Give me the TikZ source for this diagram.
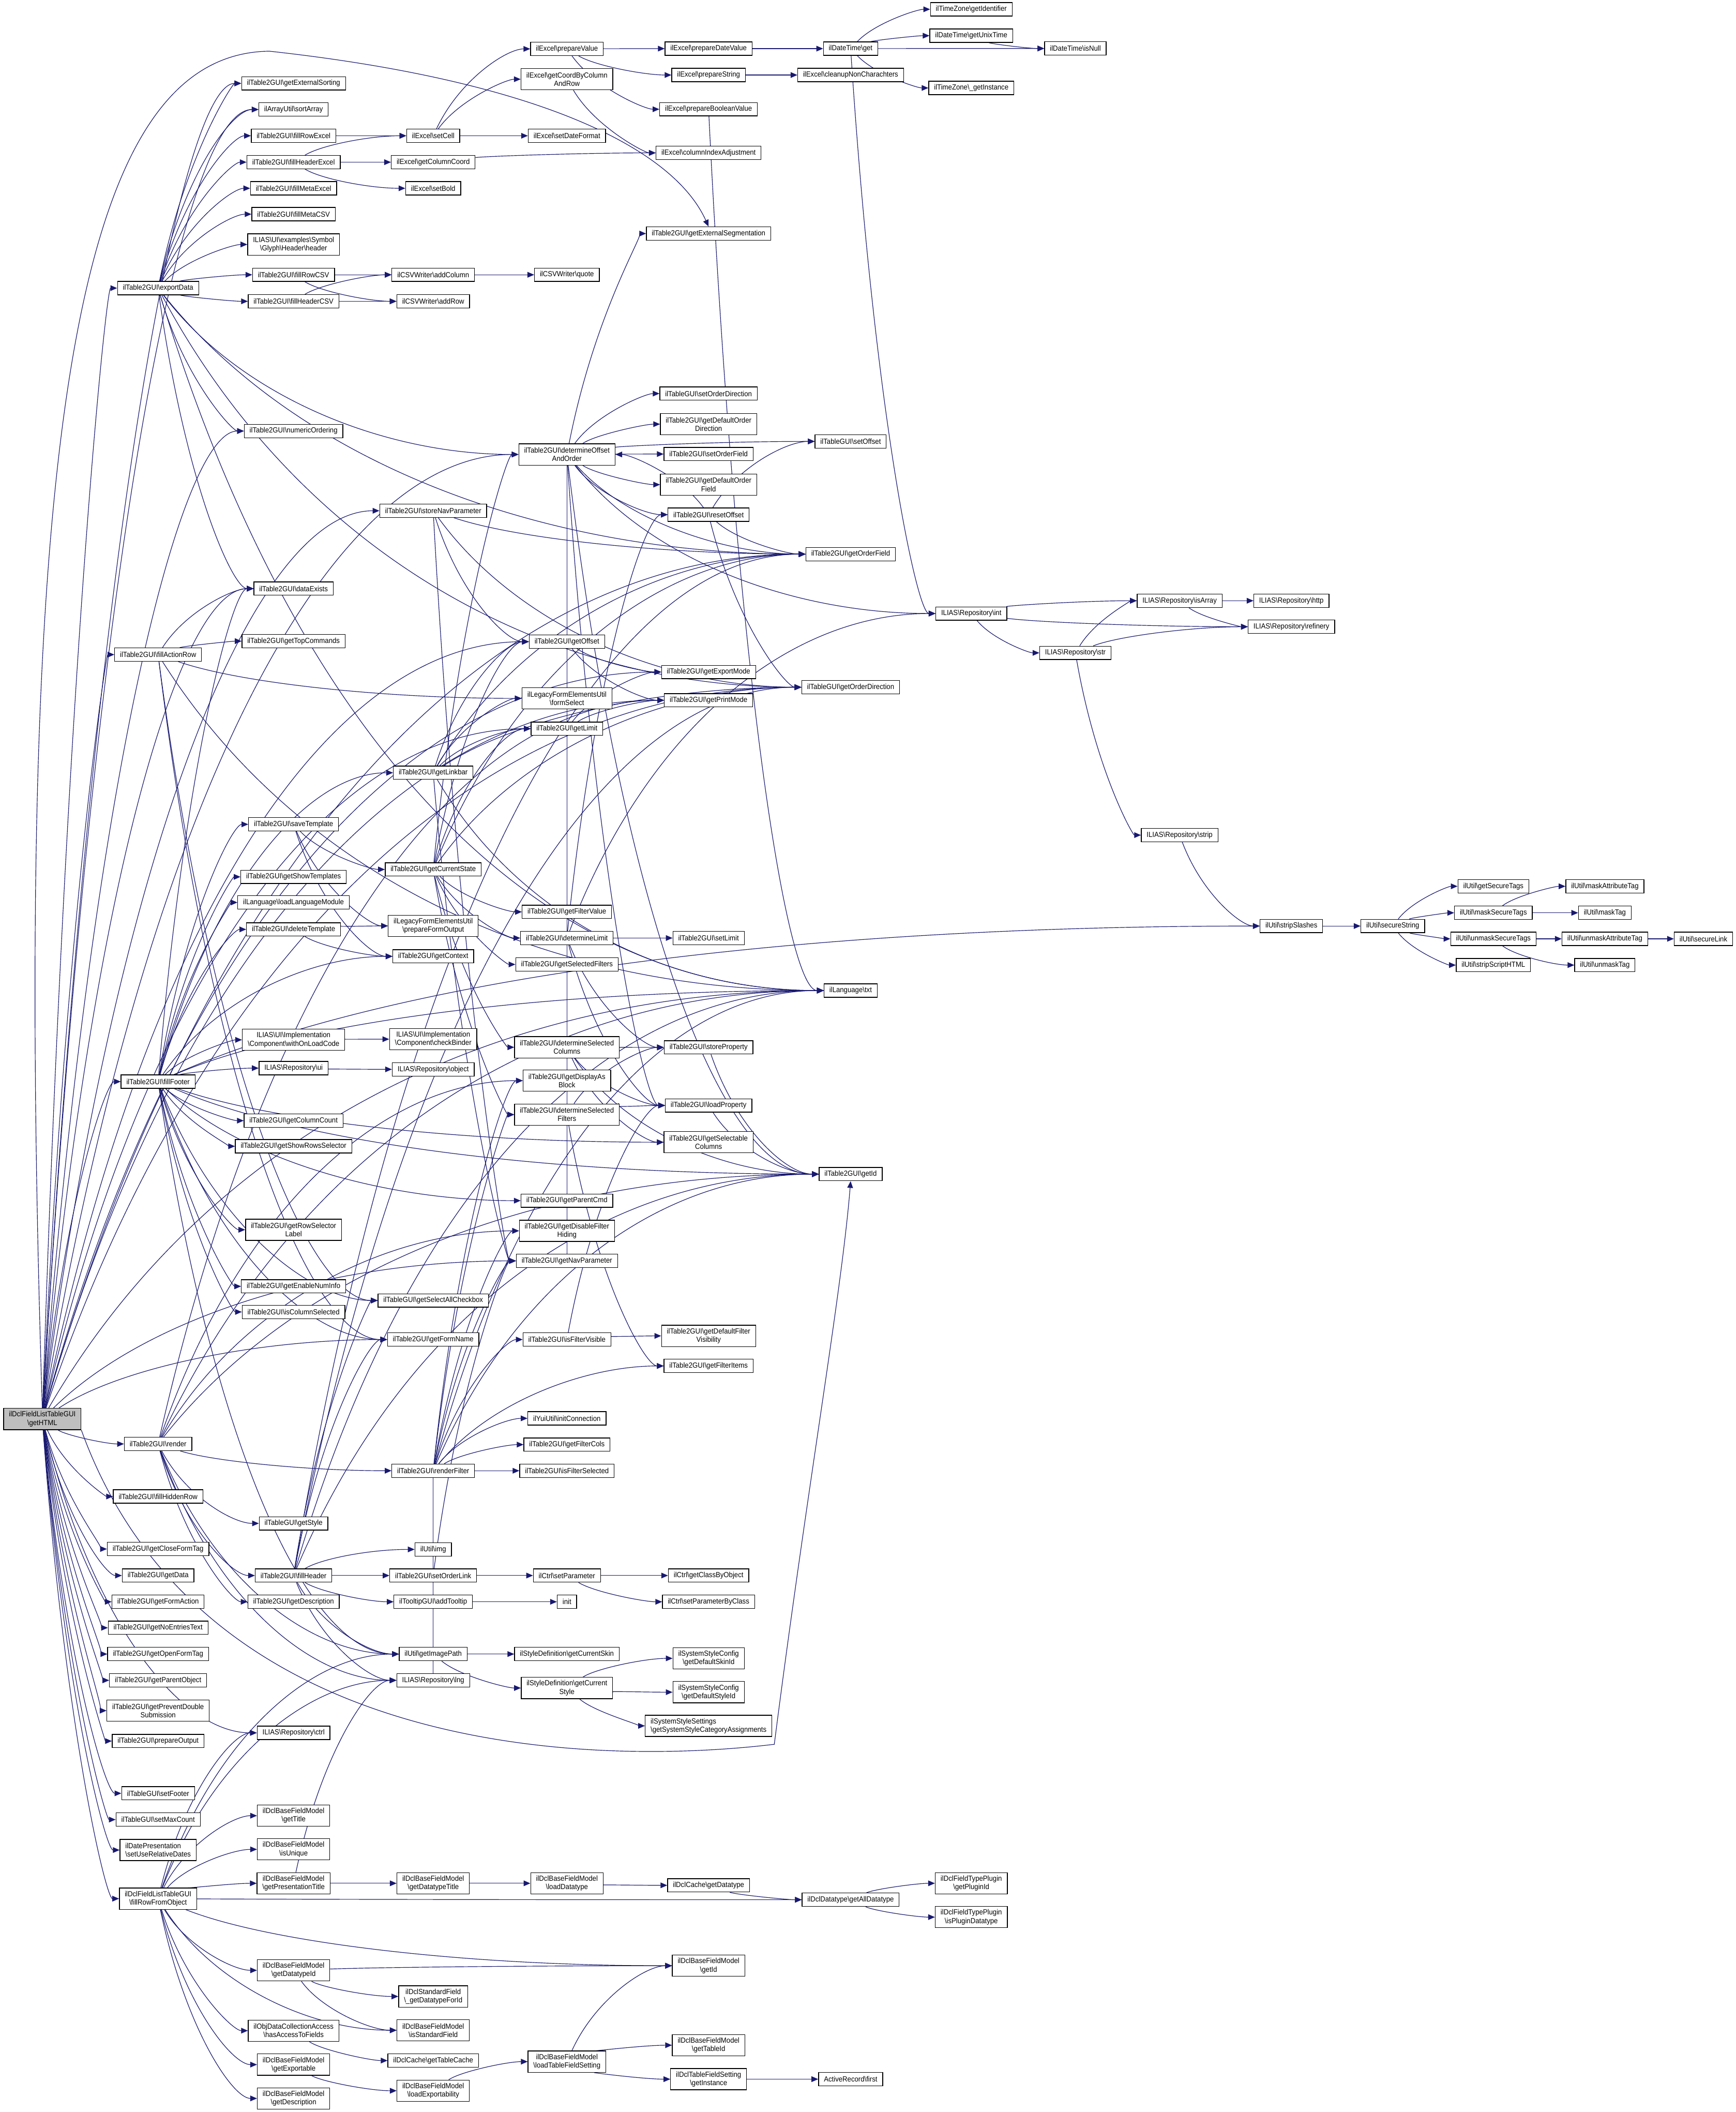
\documentclass[tikz,border=0pt]{standalone}
\usepackage{fontspec}
\usetikzlibrary{arrows.meta,calc}
\newfontfamily\dgfont{Liberation Sans}[FakeStretch=0.92]
\definecolor{edgeblue}{RGB}{25,25,112}
\definecolor{rootgray}{RGB}{191,191,191}
\newcommand{\bsl}{\textbackslash}
% curved call from #1 to #2, leaving towards the target row
\newcommand{\callc}[2]{\draw[call] let \p1=(#1.center), \p2=(#2.center) in
  (#1) .. controls ({\x1+0.2*(\x2-\x1)},{\y1+0.65*(\y2-\y1)}) and ({\x2-0.45*(\x2-\x1)},{\y2}) .. (#2);}
\pgfdeclarelayer{edges}
\pgfsetlayers{edges,main}

\begin{document}
\begin{tikzpicture}[x=1pt,y=-1pt,
    box/.style={draw=black,fill=white,line width=0.5pt,inner xsep=4pt,inner ysep=0pt,
      minimum height=9.9pt,align=center,font=\dgfont\fontsize{5.5}{6.2}\selectfont},
    twoline/.style={minimum height=15.8pt},
    rootbox/.style={box,twoline,fill=rootgray},
    call/.style={draw=edgeblue,line width=0.45pt,-{Triangle[length=5pt,width=4.2pt]}}]
\useasboundingbox (0,0) rectangle (1289,1568);

% root
\node[rootbox] (getHTML) at (31.4,1053.5) {ilDclFieldListTableGUI\\\bsl getHTML};

% column 1: x=117.4
\node[box] (exportData) at (117.4,213.9) {ilTable2GUI\bsl exportData};
\node[box] (fillActionRow) at (117.4,486) {ilTable2GUI\bsl fillActionRow};
\node[box] (fillFooter) at (117.4,803) {ilTable2GUI\bsl fillFooter};
\node[box] (render) at (117.4,1072) {ilTable2GUI\bsl render};
\node[box] (fillHiddenRow) at (117.4,1111) {ilTable2GUI\bsl fillHiddenRow};
\node[box] (getCloseFormTag) at (117.4,1150) {ilTable2GUI\bsl getCloseFormTag};
\node[box] (getData) at (117.4,1169.7) {ilTable2GUI\bsl getData};
\node[box] (getFormAction) at (117.4,1189.2) {ilTable2GUI\bsl getFormAction};
\node[box] (getNoEntriesText) at (117.4,1208.5) {ilTable2GUI\bsl getNoEntriesText};
\node[box] (getOpenFormTag) at (117.4,1228) {ilTable2GUI\bsl getOpenFormTag};
\node[box] (getParentObject) at (117.4,1247.5) {ilTable2GUI\bsl getParentObject};
\node[box,twoline] (getPreventDblSub) at (117.4,1270) {ilTable2GUI\bsl getPreventDouble\\Submission};
\node[box] (prepareOutput) at (117.4,1292.6) {ilTable2GUI\bsl prepareOutput};
\node[box] (setFooter) at (117.4,1331.4) {ilTableGUI\bsl setFooter};
\node[box] (setMaxCount) at (117.4,1350.9) {ilTableGUI\bsl setMaxCount};
\node[box,twoline,align=left] (setUseRelDates) at (117.4,1373.5) {ilDatePresentation\\\bsl setUseRelativeDates};
\node[box,twoline] (fillRowFromObject) at (117.4,1409.6) {ilDclFieldListTableGUI\\\bsl fillRowFromObject};

% column 2: x=218
\node[box] (getExtSorting) at (218,61.9) {ilTable2GUI\bsl getExternalSorting};
\node[box] (sortArray) at (218,81.3) {ilArrayUtil\bsl sortArray};
\node[box] (fillRowExcel) at (218,100.8) {ilTable2GUI\bsl fillRowExcel};
\node[box] (fillHeaderExcel) at (218,120.4) {ilTable2GUI\bsl fillHeaderExcel};
\node[box] (fillMetaExcel) at (218,139.8) {ilTable2GUI\bsl fillMetaExcel};
\node[box] (fillMetaCSV) at (218,159) {ilTable2GUI\bsl fillMetaCSV};
\node[box,twoline] (glyphHeader) at (218,181.5) {ILIAS\bsl UI\bsl examples\bsl Symbol\\\bsl Glyph\bsl Header\bsl header};
\node[box] (fillRowCSV) at (218,204) {ilTable2GUI\bsl fillRowCSV};
\node[box] (fillHeaderCSV) at (218,223.7) {ilTable2GUI\bsl fillHeaderCSV};
\node[box] (numericOrdering) at (218,320) {ilTable2GUI\bsl numericOrdering};
\node[box] (dataExists) at (218,437) {ilTable2GUI\bsl dataExists};
\node[box] (getTopCommands) at (218,476) {ilTable2GUI\bsl getTopCommands};
\node[box] (saveTemplate) at (218,612) {ilTable2GUI\bsl saveTemplate};
\node[box] (getShowTemplates) at (218,651) {ilTable2GUI\bsl getShowTemplates};
\node[box] (loadLangModule) at (218,670) {ilLanguage\bsl loadLanguageModule};
\node[box] (deleteTemplate) at (218,690) {ilTable2GUI\bsl deleteTemplate};
\node[box,twoline] (withOnLoadCode) at (218,772) {ILIAS\bsl UI\bsl Implementation\\\bsl Component\bsl withOnLoadCode};
\node[box] (repoUi) at (218,793) {ILIAS\bsl Repository\bsl ui};
\node[box] (getColumnCount) at (218,832) {ilTable2GUI\bsl getColumnCount};
\node[box] (getShowRowsSel) at (218,851) {ilTable2GUI\bsl getShowRowsSelector};
\node[box,twoline] (getRowSelLabel) at (218,913) {ilTable2GUI\bsl getRowSelector\\Label};
\node[box] (getEnableNumInfo) at (218,955) {ilTable2GUI\bsl getEnableNumInfo};
\node[box] (isColumnSelected) at (218,974) {ilTable2GUI\bsl isColumnSelected};
\node[box] (getStyle) at (218,1131) {ilTableGUI\bsl getStyle};
\node[box] (fillHeader) at (218,1169.7) {ilTable2GUI\bsl fillHeader};
\node[box] (getDescription) at (218,1189.2) {ilTable2GUI\bsl getDescription};
\node[box] (repoCtrl) at (218,1286.5) {ILIAS\bsl Repository\bsl ctrl};
\node[box,twoline] (fmGetTitle) at (218,1348) {ilDclBaseFieldModel\\\bsl getTitle};
\node[box,twoline] (fmIsUnique) at (218,1373) {ilDclBaseFieldModel\\\bsl isUnique};
\node[box,twoline] (fmGetPresTitle) at (218,1398.2) {ilDclBaseFieldModel\\\bsl getPresentationTitle};
\node[box,twoline] (fmGetDatatypeId) at (218,1462.8) {ilDclBaseFieldModel\\\bsl getDatatypeId};
\node[box,twoline] (hasAccessToFields) at (218,1507.6) {ilObjDataCollectionAccess\\\bsl hasAccessToFields};
\node[box,twoline] (fmGetExportable) at (218,1532.8) {ilDclBaseFieldModel\\\bsl getExportable};
\node[box,twoline] (fmGetDescription) at (218,1557.9) {ilDclBaseFieldModel\\\bsl getDescription};

% column 3: x=321.7
\node[box] (setCell) at (321.7,100.8) {ilExcel\bsl setCell};
\node[box] (getColumnCoord) at (321.7,120.4) {ilExcel\bsl getColumnCoord};
\node[box] (setBold) at (321.7,139.8) {ilExcel\bsl setBold};
\node[box] (addColumn) at (321.7,204) {ilCSVWriter\bsl addColumn};
\node[box] (addRow) at (321.7,223.7) {ilCSVWriter\bsl addRow};
\node[box] (storeNavParam) at (321.7,379.2) {ilTable2GUI\bsl storeNavParameter};
\node[box] (getLinkbar) at (321.7,573.7) {ilTable2GUI\bsl getLinkbar};
\node[box] (getCurrentState) at (321.7,645.5) {ilTable2GUI\bsl getCurrentState};
\node[box,twoline] (prepFormOutput) at (321.7,687.4) {ilLegacyFormElementsUtil\\\bsl prepareFormOutput};
\node[box] (getContext) at (321.7,710) {ilTable2GUI\bsl getContext};
\node[box,twoline] (checkBinder) at (321.7,771.5) {ILIAS\bsl UI\bsl Implementation\\\bsl Component\bsl checkBinder};
\node[box] (repoObject) at (321.7,793.9) {ILIAS\bsl Repository\bsl object};
\node[box] (getSelAllCheckbox) at (321.7,965.5) {ilTableGUI\bsl getSelectAllCheckbox};
\node[box] (getFormName) at (321.7,994.5) {ilTable2GUI\bsl getFormName};
\node[box] (renderFilter) at (321.7,1091.9) {ilTable2GUI\bsl renderFilter};
\node[box] (utilImg) at (321.7,1150.3) {ilUtil\bsl img};
\node[box] (setOrderLink) at (321.7,1169.7) {ilTable2GUI\bsl setOrderLink};
\node[box] (addTooltip) at (321.7,1189.2) {ilTooltipGUI\bsl addTooltip};
\node[box] (getImagePath) at (321.7,1228) {ilUtil\bsl getImagePath};
\node[box] (repoLng) at (321.7,1247.5) {ILIAS\bsl Repository\bsl lng};
\node[box,twoline] (fmGetDtTitle) at (321.7,1398.2) {ilDclBaseFieldModel\\\bsl getDatatypeTitle};
\node[box,twoline] (getDtForId) at (321.7,1482.2) {ilDclStandardField\\\bsl\_getDatatypeForId};
\node[box,twoline] (fmIsStdField) at (321.7,1507.3) {ilDclBaseFieldModel\\\bsl isStandardField};
\node[box] (getTableCache) at (321.7,1529.8) {ilDclCache\bsl getTableCache};
\node[box,twoline] (fmLoadExportab) at (321.7,1552.2) {ilDclBaseFieldModel\\\bsl loadExportability};

% column 4: x=421
\node[box] (prepareValue) at (421,36.3) {ilExcel\bsl prepareValue};
\node[box,twoline] (getCoordByColRow) at (421,58.8) {ilExcel\bsl getCoordByColumn\\AndRow};
\node[box] (setDateFormat) at (421,100.8) {ilExcel\bsl setDateFormat};
\node[box] (csvQuote) at (421,204) {ilCSVWriter\bsl quote};
\node[box,twoline] (detOffsetOrder) at (421,337.4) {ilTable2GUI\bsl determineOffset\\AndOrder};
\node[box] (getOffset) at (421,476.4) {ilTable2GUI\bsl getOffset};
\node[box,twoline] (formSelect) at (421,518.5) {ilLegacyFormElementsUtil\\\bsl formSelect};
\node[box] (getLimit) at (421,541) {ilTable2GUI\bsl getLimit};
\node[box] (getFilterValue) at (421,677) {ilTable2GUI\bsl getFilterValue};
\node[box] (detLimit) at (421,696.4) {ilTable2GUI\bsl determineLimit};
\node[box] (getSelFilters) at (421,716) {ilTable2GUI\bsl getSelectedFilters};
\node[box,twoline] (detSelColumns) at (421,777.5) {ilTable2GUI\bsl determineSelected\\Columns};
\node[box,twoline] (getDisplayAsBlock) at (421,802.3) {ilTable2GUI\bsl getDisplayAs\\Block};
\node[box,twoline] (detSelFilters) at (421,827.5) {ilTable2GUI\bsl determineSelected\\Filters};
\node[box] (getParentCmd) at (421,891.4) {ilTable2GUI\bsl getParentCmd};
\node[box,twoline] (getDisFilterHiding) at (421,913.8) {ilTable2GUI\bsl getDisableFilter\\Hiding};
\node[box] (getNavParam) at (421,936.1) {ilTable2GUI\bsl getNavParameter};
\node[box] (isFilterVisible) at (421,994.5) {ilTable2GUI\bsl isFilterVisible};
\node[box] (initConnection) at (421,1053) {ilYuiUtil\bsl initConnection};
\node[box] (getFilterCols) at (421,1072.5) {ilTable2GUI\bsl getFilterCols};
\node[box] (isFilterSelected) at (421,1091.9) {ilTable2GUI\bsl isFilterSelected};
\node[box] (ctrlSetParam) at (421,1169.7) {ilCtrl\bsl setParameter};
\node[box] (tooltipInit) at (421,1189.2) {init};
\node[box] (getCurrentSkin) at (421,1228) {ilStyleDefinition\bsl getCurrentSkin};
\node[box,twoline] (getCurrentStyle) at (421,1253.2) {ilStyleDefinition\bsl getCurrent\\Style};
\node[box,twoline] (fmLoadDatatype) at (421,1398.2) {ilDclBaseFieldModel\\\bsl loadDatatype};
\node[box,twoline] (fmLoadTFSetting) at (421,1530.6) {ilDclBaseFieldModel\\\bsl loadTableFieldSetting};

% column 5: x=526.2
\node[box] (prepDateValue) at (526.2,36.1) {ilExcel\bsl prepareDateValue};
\node[box] (prepString) at (526.2,55.7) {ilExcel\bsl prepareString};
\node[box] (prepBoolValue) at (526.2,81.1) {ilExcel\bsl prepareBooleanValue};
\node[box] (colIndexAdjust) at (526.2,113.5) {ilExcel\bsl columnIndexAdjustment};
\node[box] (getExtSegment) at (526.2,173.4) {ilTable2GUI\bsl getExternalSegmentation};
\node[box] (setOrderDir) at (526.2,292.2) {ilTableGUI\bsl setOrderDirection};
\node[box,twoline] (getDefOrderDir) at (526.2,314.9) {ilTable2GUI\bsl getDefaultOrder\\Direction};
\node[box] (setOrderField) at (526.2,337.1) {ilTable2GUI\bsl setOrderField};
\node[box,twoline] (getDefOrderField) at (526.2,359.8) {ilTable2GUI\bsl getDefaultOrder\\Field};
\node[box] (resetOffset) at (526.2,382.1) {ilTable2GUI\bsl resetOffset};
\node[box] (getExportMode) at (526.2,498.9) {ilTable2GUI\bsl getExportMode};
\node[box] (getPrintMode) at (526.2,519.9) {ilTable2GUI\bsl getPrintMode};
\node[box] (setLimit) at (526.2,696.4) {ilTable2GUI\bsl setLimit};
\node[box] (storeProperty) at (526.2,777.6) {ilTable2GUI\bsl storeProperty};
\node[box] (loadProperty) at (526.2,820.7) {ilTable2GUI\bsl loadProperty};
\node[box,twoline] (getSelColumns) at (526.2,848) {ilTable2GUI\bsl getSelectable\\Columns};
\node[box,twoline] (getDefFilterVis) at (526.2,991.8) {ilTable2GUI\bsl getDefaultFilter\\Visibility};
\node[box] (getFilterItems) at (526.2,1014.1) {ilTable2GUI\bsl getFilterItems};
\node[box] (getClassByObject) at (526.2,1169.7) {ilCtrl\bsl getClassByObject};
\node[box] (setParamByClass) at (526.2,1189.2) {ilCtrl\bsl setParameterByClass};
\node[box,twoline] (getDefSkinId) at (526.2,1231.2) {ilSystemStyleConfig\\\bsl getDefaultSkinId};
\node[box,twoline] (getDefStyleId) at (526.2,1256.3) {ilSystemStyleConfig\\\bsl getDefaultStyleId};
\node[box,twoline,align=left] (getSysStyleCat) at (526.2,1281.3) {ilSystemStyleSettings\\\bsl getSystemStyleCategoryAssignments};
\node[box] (getDatatype) at (526.2,1399.7) {ilDclCache\bsl getDatatype};
\node[box,twoline] (fmGetId) at (526.2,1459.4) {ilDclBaseFieldModel\\\bsl getId};
\node[box,twoline] (fmGetTableId) at (526.2,1518.4) {ilDclBaseFieldModel\\\bsl getTableId};
\node[box,twoline] (tfsGetInstance) at (526.2,1543.6) {ilDclTableFieldSetting\\\bsl getInstance};

% column 6: x=631.7
\node[box] (dtGet) at (631.7,36.1) {ilDateTime\bsl get};
\node[box] (cleanupNonChars) at (631.7,55.7) {ilExcel\bsl cleanupNonCharachters};
\node[box] (setOffset) at (631.7,327.7) {ilTableGUI\bsl setOffset};
\node[box] (getOrderField) at (631.7,411.4) {ilTable2GUI\bsl getOrderField};
\node[box] (getOrderDir) at (631.7,510.2) {ilTableGUI\bsl getOrderDirection};
\node[box] (langTxt) at (631.7,735.4) {ilLanguage\bsl txt};
\node[box] (getId) at (631.7,871.7) {ilTable2GUI\bsl getId};
\node[box] (getAllDatatype) at (631.7,1410.4) {ilDclDatatype\bsl getAllDatatype};
\node[box] (arFirst) at (631.7,1543.6) {ActiveRecord\bsl first};

% column 7 and beyond
\node[box] (tzGetIdentifier) at (721.3,6.9) {ilTimeZone\bsl getIdentifier};
\node[box] (dtGetUnixTime) at (721.3,26.5) {ilDateTime\bsl getUnixTime};
\node[box] (tzGetInstance) at (721.3,65.3) {ilTimeZone\bsl\_getInstance};
\node[box] (repoInt) at (721.3,455.5) {ILIAS\bsl Repository\bsl int};
\node[box,twoline] (getPluginId) at (721.3,1398.2) {ilDclFieldTypePlugin\\\bsl getPluginId};
\node[box,twoline] (isPluginDt) at (721.3,1423.3) {ilDclFieldTypePlugin\\\bsl isPluginDatatype};
\node[box] (dtIsNull) at (798.6,36) {ilDateTime\bsl isNull};
\node[box] (repoStr) at (798.6,484.7) {ILIAS\bsl Repository\bsl str};
\node[box] (repoIsArray) at (876,446) {ILIAS\bsl Repository\bsl isArray};
\node[box] (repoStrip) at (876,620) {ILIAS\bsl Repository\bsl strip};
\node[box] (repoHttp) at (959,446) {ILIAS\bsl Repository\bsl http};
\node[box] (repoRefinery) at (959,465.3) {ILIAS\bsl Repository\bsl refinery};
\node[box] (stripSlashes) at (959,687.5) {ilUtil\bsl stripSlashes};
\node[box] (secureString) at (1034.3,687.5) {ilUtil\bsl secureString};
\node[box] (getSecureTags) at (1109,658) {ilUtil\bsl getSecureTags};
\node[box] (maskSecureTags) at (1109,677.7) {ilUtil\bsl maskSecureTags};
\node[box] (unmaskSecureTags) at (1109,697) {ilUtil\bsl unmaskSecureTags};
\node[box] (stripScriptHTML) at (1109,716.5) {ilUtil\bsl stripScriptHTML};
\node[box] (maskAttributeTag) at (1191.8,658) {ilUtil\bsl maskAttributeTag};
\node[box] (maskTag) at (1191.8,677.7) {ilUtil\bsl maskTag};
\node[box] (unmaskAttrTag) at (1191.8,697) {ilUtil\bsl unmaskAttributeTag};
\node[box] (unmaskTag) at (1191.8,716.5) {ilUtil\bsl unmaskTag};
\node[box] (secureLink) at (1265,697) {ilUtil\bsl secureLink};

\begin{pgfonlayer}{edges}
% calls out of getHTML
\foreach \t in {exportData,fillActionRow,fillFooter,render,fillHiddenRow,getCloseFormTag,
    getData,getFormAction,getNoEntriesText,getOpenFormTag,getParentObject,getPreventDblSub,
    prepareOutput,setFooter,setMaxCount,setUseRelDates,fillRowFromObject,getExtSorting,sortArray,
    numericOrdering,dataExists,detOffsetOrder,storeNavParam,getOffset,getLimit,getOrderField,
    getOrderDir,getExportMode,getPrintMode,getNavParam,langTxt,repoCtrl,getFormName}
  {\callc{getHTML}{\t}}
\draw[call] (getHTML.north) .. controls (8,300) and (60,40) .. (200,38) .. controls (400,60) and (500,110) .. (getExtSegment.north);
\draw[call] (getHTML.south east) .. controls (150,1310) and (450,1310) .. (575,1295) .. controls (600,1100) and (625,960) .. (getId.south);
% export
\foreach \s/\t in {exportData/getExtSorting,exportData/sortArray,exportData/fillRowExcel,
    exportData/fillHeaderExcel,exportData/fillMetaExcel,exportData/fillMetaCSV,exportData/glyphHeader,
    exportData/fillRowCSV,exportData/fillHeaderCSV,exportData/numericOrdering,exportData/dataExists,
    exportData/detOffsetOrder,exportData/getOrderField,exportData/getOrderDir,exportData/langTxt,
    fillRowExcel/setCell,fillHeaderExcel/setCell,fillHeaderExcel/getColumnCoord,fillHeaderExcel/setBold,
    setCell/prepareValue,setCell/getCoordByColRow,setCell/setDateFormat,getColumnCoord/colIndexAdjust,
    getCoordByColRow/colIndexAdjust,prepareValue/prepDateValue,prepareValue/prepString,
    prepareValue/prepBoolValue,prepDateValue/dtGet,prepString/cleanupNonChars,prepBoolValue/langTxt,
    dtGet/tzGetIdentifier,dtGet/dtGetUnixTime,dtGet/dtIsNull,dtGet/tzGetInstance,dtGet/repoInt,
    dtGetUnixTime/dtIsNull,fillRowCSV/addColumn,fillRowCSV/addRow,fillHeaderCSV/addColumn,
    fillHeaderCSV/addRow,addColumn/csvQuote}
  {\callc{\s}{\t}}
% navigation and state
\foreach \s/\t in {fillActionRow/dataExists,fillActionRow/getTopCommands,fillActionRow/formSelect,
    fillActionRow/langTxt,fillActionRow/getSelAllCheckbox,fillActionRow/getFormName,
    detOffsetOrder/getExtSegment,detOffsetOrder/setOrderDir,detOffsetOrder/getDefOrderDir,
    detOffsetOrder/setOrderField,detOffsetOrder/getDefOrderField,detOffsetOrder/resetOffset,
    detOffsetOrder/setOffset,detOffsetOrder/getOrderField,detOffsetOrder/getNavParam,
    detOffsetOrder/getId,detOffsetOrder/loadProperty,detOffsetOrder/repoInt,
    resetOffset/detOffsetOrder,resetOffset/setOffset,resetOffset/getOrderField,resetOffset/getOrderDir,
    storeNavParam/getOrderField,storeNavParam/getOrderDir,storeNavParam/getOffset,storeNavParam/getNavParam,
    getLinkbar/getOffset,getLinkbar/getLimit,getLinkbar/formSelect,getLinkbar/getOrderField,
    getLinkbar/getOrderDir,getLinkbar/getNavParam,getLinkbar/langTxt,
    getOffset/getExportMode,getOffset/getPrintMode,getLimit/getExportMode,getLimit/getPrintMode,
    saveTemplate/getCurrentState,saveTemplate/prepFormOutput,saveTemplate/getContext,
    deleteTemplate/prepFormOutput,deleteTemplate/getContext,
    getCurrentState/detOffsetOrder,getCurrentState/detLimit,getCurrentState/detSelColumns,
    getCurrentState/detSelFilters,getCurrentState/getOrderField,getCurrentState/getOrderDir,
    getCurrentState/getOffset,getCurrentState/getLimit,getCurrentState/getSelFilters,
    getCurrentState/getFilterValue,
    detLimit/setLimit,detLimit/storeProperty,detLimit/loadProperty,detLimit/resetOffset,detLimit/repoInt,
    detSelColumns/storeProperty,detSelColumns/loadProperty,detSelColumns/getSelColumns,detSelColumns/getId,
    detSelFilters/storeProperty,detSelFilters/loadProperty,detSelFilters/getFilterItems,
    storeProperty/getId,loadProperty/getId,isFilterVisible/getDefFilterVis,isFilterVisible/loadProperty,
    repoInt/repoIsArray,repoInt/repoRefinery,repoInt/repoStr,repoStr/repoIsArray,repoStr/repoRefinery,
    repoStr/repoStrip,repoIsArray/repoHttp,repoIsArray/repoRefinery,repoStrip/stripSlashes,
    stripSlashes/secureString,secureString/getSecureTags,secureString/maskSecureTags,
    secureString/unmaskSecureTags,secureString/stripScriptHTML,maskSecureTags/maskAttributeTag,
    maskSecureTags/maskTag,unmaskSecureTags/unmaskAttrTag,unmaskSecureTags/unmaskTag,
    unmaskAttrTag/secureLink,withOnLoadCode/checkBinder,repoUi/repoObject}
  {\callc{\s}{\t}}
% footer
\foreach \t in {getFormName,getSelAllCheckbox,dataExists,langTxt,getEnableNumInfo,getColumnCount,
    getLinkbar,getSelColumns,isColumnSelected,withOnLoadCode,getShowRowsSel,getId,getRowSelLabel,
    repoUi,getShowTemplates,getContext,saveTemplate,deleteTemplate,loadLangModule,
    getParentCmd,getImagePath,stripSlashes}
  {\callc{fillFooter}{\t}}
% render
\foreach \s/\t in {render/getStyle,render/fillHeader,render/getDescription,render/renderFilter,
    render/getDisplayAsBlock,render/getPrintMode,render/getId,render/langTxt,render/getImagePath,
    render/repoLng,render/getDisFilterHiding,
    renderFilter/getFilterItems,renderFilter/initConnection,renderFilter/getFilterCols,
    renderFilter/isFilterSelected,renderFilter/detSelFilters,renderFilter/getDisplayAsBlock,
    renderFilter/getDisFilterHiding,renderFilter/isFilterVisible,renderFilter/getId,
    renderFilter/getNavParam,renderFilter/langTxt,renderFilter/getImagePath,renderFilter/repoLng,
    fillHeader/utilImg,fillHeader/setOrderLink,fillHeader/addTooltip,fillHeader/getImagePath,
    fillHeader/repoLng,fillHeader/getSelAllCheckbox,fillHeader/getFormName,fillHeader/getOrderField,
    fillHeader/getOrderDir,fillHeader/getId,fillHeader/langTxt,
    setOrderLink/ctrlSetParam,setOrderLink/getNavParam,ctrlSetParam/getClassByObject,
    ctrlSetParam/setParamByClass,addTooltip/tooltipInit,getImagePath/getCurrentSkin,
    getImagePath/getCurrentStyle,getCurrentStyle/getDefSkinId,getCurrentStyle/getDefStyleId,
    getCurrentStyle/getSysStyleCat}
  {\callc{\s}{\t}}
% data collection fields
\foreach \s/\t in {fillRowFromObject/fmGetTitle,fillRowFromObject/fmIsUnique,
    fillRowFromObject/fmGetPresTitle,fillRowFromObject/fmGetDatatypeId,
    fillRowFromObject/hasAccessToFields,fillRowFromObject/fmGetExportable,
    fillRowFromObject/fmGetDescription,fillRowFromObject/fmGetId,fillRowFromObject/fmIsStdField,
    fillRowFromObject/getAllDatatype,fillRowFromObject/repoCtrl,fillRowFromObject/repoLng,
    fillRowFromObject/getImagePath,fmGetPresTitle/fmGetDtTitle,fmGetPresTitle/repoLng,
    fmGetDtTitle/fmLoadDatatype,fmLoadDatatype/getDatatype,getDatatype/getAllDatatype,
    getAllDatatype/getPluginId,getAllDatatype/isPluginDt,fmGetDatatypeId/fmGetId,
    fmGetDatatypeId/getDtForId,fmGetDatatypeId/fmIsStdField,hasAccessToFields/getTableCache,
    fmGetExportable/fmLoadExportab,fmLoadExportab/fmLoadTFSetting,fmLoadTFSetting/fmGetId,
    fmLoadTFSetting/fmGetTableId,fmLoadTFSetting/tfsGetInstance,tfsGetInstance/arFirst}
  {\callc{\s}{\t}}
\end{pgfonlayer}
\end{tikzpicture}
\end{document}
